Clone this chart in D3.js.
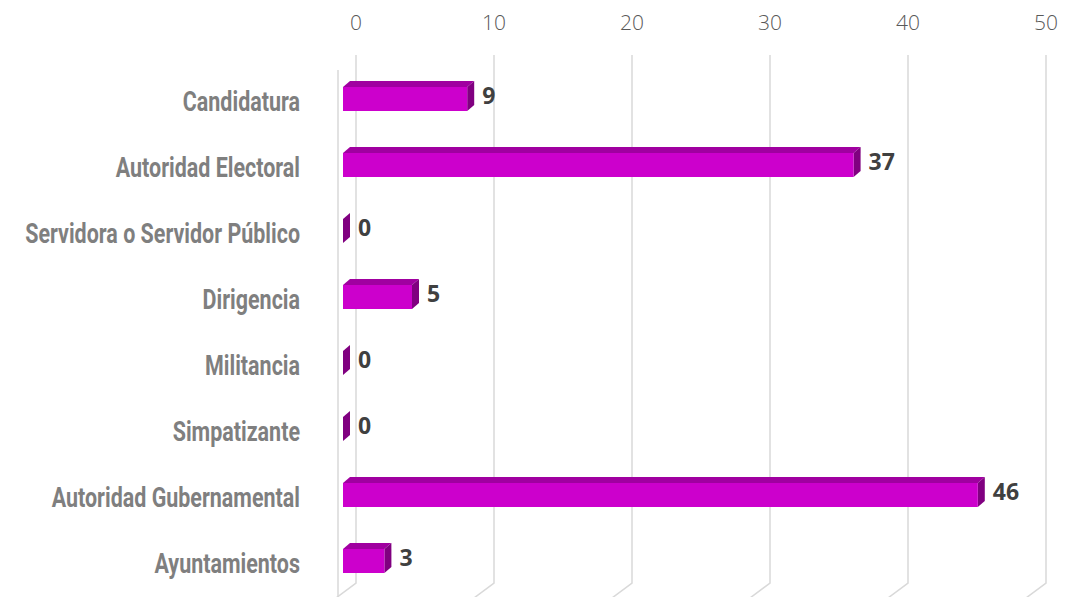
<!DOCTYPE html>
<html lang="en">
<head>
<meta charset="UTF-8">
<title>Bar 3D</title>
<script src="https://cdn.jsdelivr.net/npm/d3@7"></script>
<style>
  body, html { margin: 0; background: #fff; }
  svg { display: block; }
</style>
</head>
<body>
<svg width="1085" height="597"></svg>
<script>
const categories = ["Candidatura","Autoridad Electoral","Servidora o Servidor Público","Dirigencia","Militancia","Simpatizante","Autoridad Gubernamental","Ayuntamientos"];
const values = [9,37,0,5,0,0,46,3];
const ticks = [0,10,20,30,40,50];

(function(){
  const svg = d3.select('svg');
  const x = d3.scaleLinear().domain([0,50]).range([343,1033]);
  const y = d3.scalePoint().domain(categories).range([99,561]);
  const depth = {dx:7, dy:-6};
  const wall = 13;          // back wall offset
  const barH = 24;
  const top = 55, floor = 583;

  // gridlines on back wall + floor slants
  const grid = svg.append('g').attr('stroke','#d9d9d9').attr('stroke-width',1.5).attr('fill','none');
  ticks.forEach(t => {
    const xb = x(t) + wall;
    grid.append('path').attr('d', `M${xb},${top}L${xb},${floor}L${xb-24},${floor+18}`);
  });
  // left wall front edge
  grid.append('path').attr('d', `M${x(0)-5},70L${x(0)-5},597`);

  // tick labels
  svg.append('g').selectAll('text').data(ticks).join('text')
    .attr('x', d => x(d) + wall).attr('y', 23).attr('dy','0.35em')
    .attr('text-anchor','middle')
    .style('font-family','"Open Sans", sans-serif').style('font-weight',300)
    .style('font-size','21px').style('fill','#595959')
    .text(d => d);

  // bars
  const bars = svg.append('g').selectAll('g').data(values).join('g');
  bars.each(function(v, i){
    const g = d3.select(this);
    const x0 = x(0), x1 = x(v), yt = y(categories[i]) - barH/2, yb = yt + barH;
    const {dx, dy} = depth;
    // top face
    g.append('path').attr('fill','#a000a0')
      .attr('d', `M${x0},${yt}L${x0+dx},${yt+dy}L${x1+dx},${yt+dy}L${x1},${yt}Z`);
    // side face
    g.append('path').attr('fill','#800080')
      .attr('d', `M${x1},${yt}L${x1+dx},${yt+dy}L${x1+dx},${yb+dy}L${x1},${yb}Z`);
    // front face
    if (v > 0) g.append('rect').attr('fill','#cc00cc')
      .attr('x', x0).attr('y', yt).attr('width', x1 - x0).attr('height', barH);
    g.append('text')
      .attr('x', x1 + dx + 8).attr('y', y(categories[i]) - 3).attr('dy','0.35em')
      .style('font-family','"Open Sans", sans-serif').style('font-weight',700)
      .style('font-size','23px').style('fill','#404040')
      .text(v);
  });

  // category labels, condensed horizontally to mimic a narrow face
  const labG = svg.append('g');
  const labs = labG.selectAll('text').data(categories).join('text')
    .attr('y', d => y(d) + 2).attr('dy','0.35em')
    .attr('text-anchor','end')
    .style('font-family','Roboto, "DejaVu Sans", sans-serif')
    .style('font-weight',700).style('font-size','28px').style('fill','#7f7f7f')
    .text(d => d);
  const widest = d3.max(labs.nodes(), n => n.getComputedTextLength());
  const k = 275 / widest;
  labs.attr('transform', `translate(300,0) scale(${k},1)`).attr('x', 0);
})();
</script>
</body>
</html>
